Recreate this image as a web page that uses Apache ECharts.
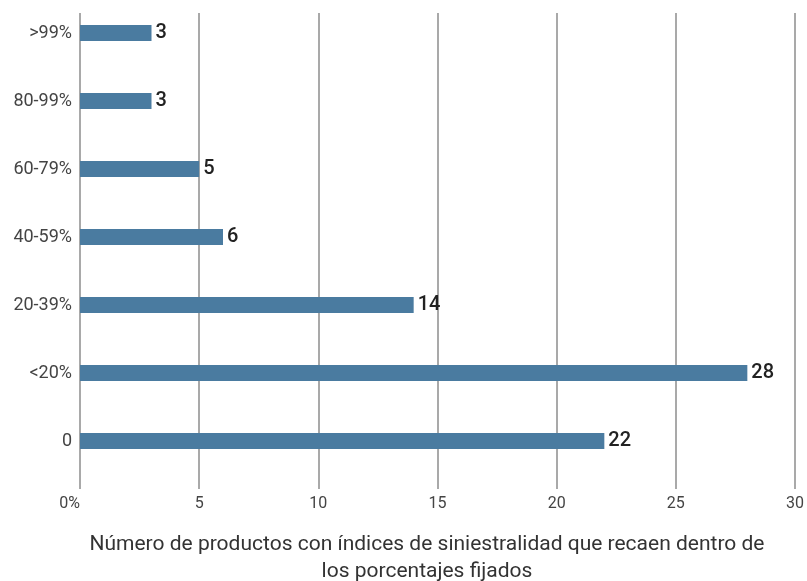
<!DOCTYPE html>
<html>
<head>
<meta charset="utf-8">
<script src="https://cdn.jsdelivr.net/npm/echarts@6/dist/echarts.min.js"></script>
<style>
  html, body { margin: 0; padding: 0; background: #fff; }
  .kk { width: 807px; height: 581px; }
</style>
</head>
<body>
<div class="kk"></div>
<script>
// categories, bottom to top
var categorias = ["0", "<20%", "20-39%", "40-59%", "60-79%", "80-99%", ">99%"];
var productos = [22, 28, 14, 6, 5, 3, 3];
// empty slot that sits below each bar in the original
var hueco = [null, null, null, null, null, null, null];
var xTicks = [0, 5, 10, 15, 20, 25, 30];
var tituloEje = "Número de productos con índices de siniestralidad que recaen dentro de\nlos porcentajes fijados";

(function(){
    var mychart = echarts.init(document.querySelector(".kk"));
    var fuente = "Roboto";

    var option = {
        backgroundColor: '#fff',
        animation: false,
        grid: {
            left: 80,
            right: 2,
            top: 13,
            bottom: 92,
            containLabel: false
        },
        title: {
            text: tituloEje,
            left: 422,
            top: 526,
            textAlign: 'center',
            textStyle: {
                fontFamily: fuente,
                fontSize: 21,
                fontWeight: 'normal',
                color: '#333',
                lineHeight: 27
            }
        },
        xAxis: {
            type: 'value',
            min: xTicks[0],
            max: xTicks[xTicks.length - 1],
            interval: xTicks[1] - xTicks[0],
            axisLine: { show: false },
            axisTick: { show: false },
            axisLabel: {
                margin: 7,
                fontFamily: fuente,
                fontSize: 16,
                color: '#444',
                alignMinLabel: 'right',
                formatter: function (v) { return v === 0 ? '0%' : String(v); }
            },
            splitLine: {
                show: true,
                lineStyle: { color: '#8c8c8c', width: 1.5 }
            }
        },
        yAxis: {
            type: 'category',
            data: categorias,
            axisLine: { show: false },
            axisTick: { show: false },
            axisLabel: {
                margin: 8,
                fontFamily: fuente,
                fontSize: 18,
                color: '#444',
                lineHeight: 28,
                // empty second line lifts the label up to the bar
                formatter: function (v) { return v + '\n '; }
            },
            splitLine: { show: false }
        },
        series: [{
            type: 'bar',
            name: 'productos',
            data: productos,
            barWidth: 16,
            barGap: '75%',
            itemStyle: { color: '#4a7ba0' },
            label: {
                show: true,
                position: 'right',
                distance: 4,
                fontFamily: fuente,
                fontSize: 20,
                fontWeight: 500,
                color: '#222'
            }
        }, {
            type: 'bar',
            name: 'hueco',
            data: hueco,
            barWidth: 16,
            itemStyle: { color: 'transparent' }
        }]
    };
    mychart.setOption(option);
})();
</script>
</body>
</html>
